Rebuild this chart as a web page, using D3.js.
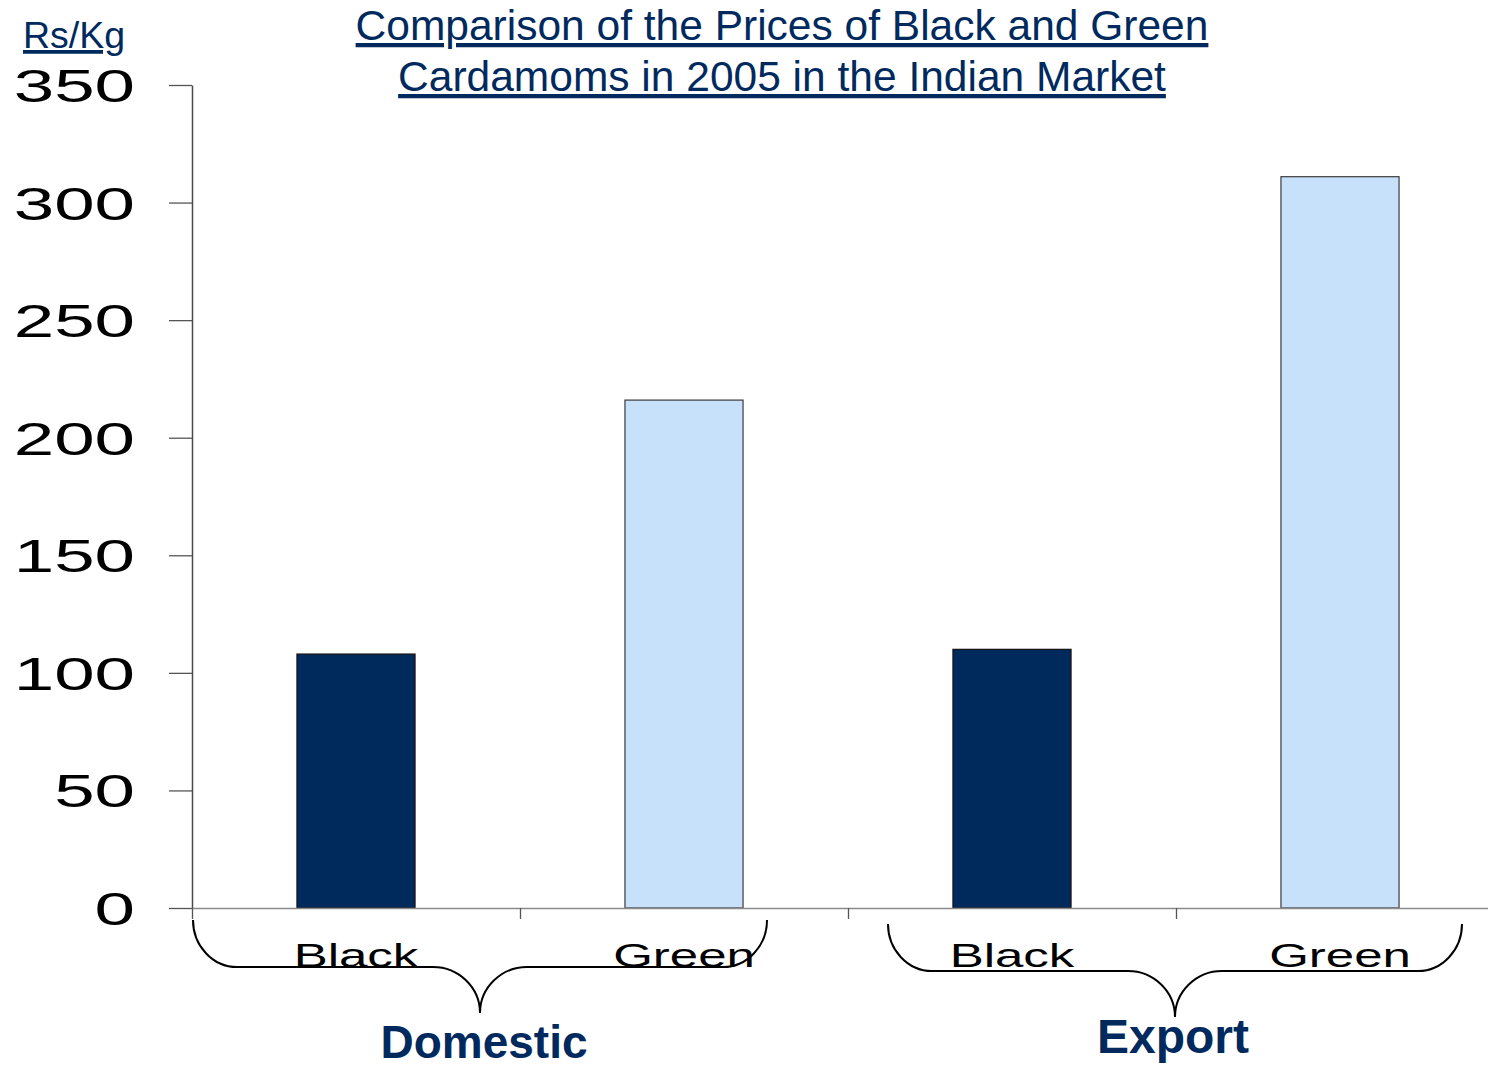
<!DOCTYPE html>
<html>
<head>
<meta charset="utf-8">
<script src="https://cdn.jsdelivr.net/npm/d3@7"></script>
<style>
  html, body { margin: 0; padding: 0; background: #ffffff; }
  svg { display: block; }
</style>
</head>
<body>
<svg id="chart" width="1488" height="1068"></svg>
<script>
// ---- data ----
const markets = ["Domestic", "Export"];
const types = ["Black", "Green"];
const categories = ["Domestic Black", "Domestic Green", "Export Black", "Export Green"];
const prices = [108, 216, 110, 311];           // Rs/Kg
const yTicks = [0, 50, 100, 150, 200, 250, 300, 350];
const titleLines = [
  "Comparison of the Prices of Black and Green",
  "Cardamoms in 2005 in the Indian Market"
];
const unitLabel = "Rs/Kg";

// ---- layout / style ----
const W = 1488, H = 1068;
const plot = { left: 192, right: 1504, top: 85, bottom: 908 };
const navy = "#002a5e";
const fills = { Black: "#00295c", Green: "#c7e1fa" };
const strokes = { Black: "#111111", Green: "#3a3a3a" };
const sansFont = "'Liberation Sans', Arial, Helvetica, sans-serif";
const tickStretch = 1.58;  // wide lettering for the axis numbers
const catStretch = 1.5;    // wide lettering for the category names

const svg = d3.select("#chart");

const x = d3.scaleBand()
  .domain(categories)
  .range([plot.left, plot.right])
  .paddingInner(0.64)
  .paddingOuter(0.32);

const slots = d3.scaleLinear()
  .domain([0, categories.length])
  .range([plot.left, plot.right]);

const y = d3.scaleLinear()
  .domain([0, 350])
  .range([plot.bottom, plot.top]);

// ---- bars ----
const rows = categories.map((c, i) => ({ cat: c, type: types[i % 2], value: prices[i] }));

svg.append("g")
  .selectAll("rect")
  .data(rows)
  .join("rect")
  .attr("x", d => x(d.cat))
  .attr("y", d => y(d.value))
  .attr("width", x.bandwidth())
  .attr("height", d => y(0) - y(d.value))
  .attr("fill", d => fills[d.type])
  .attr("stroke", d => strokes[d.type])
  .attr("stroke-width", 1.2);

// ---- y axis ----
const yAxis = svg.append("g")
  .attr("transform", `translate(${plot.left},0)`)
  .call(d3.axisLeft(y).tickValues(yTicks).tickSize(23).tickSizeOuter(0).tickFormat(d3.format("d")));

yAxis.select(".domain").attr("stroke", "#4a4a4a").attr("stroke-width", 1.5);
yAxis.selectAll(".tick line").attr("stroke", "#555555").attr("stroke-width", 1.3);
yAxis.selectAll(".tick text")
  .attr("x", 0)
  .attr("dy", "0.36em")
  .attr("text-anchor", "end")
  .attr("transform", `translate(-57,0) scale(${tickStretch},1)`)
  .style("font-family", sansFont)
  .style("font-size", "46px")
  .attr("fill", "#000");

// ---- x axis (baseline with slot dividers) ----
const xAxis = svg.append("g")
  .attr("transform", `translate(0,${plot.bottom})`)
  .call(d3.axisBottom(slots).ticks(categories.length).tickSize(11).tickSizeOuter(0).tickFormat(""));

xAxis.select(".domain").attr("stroke", "#8a8a8a").attr("stroke-width", 1.6);
xAxis.selectAll(".tick line").attr("stroke", "#555555").attr("stroke-width", 1.3);

// ---- category names ----
svg.append("g")
  .selectAll("text")
  .data(rows)
  .join("text")
  .attr("text-anchor", "middle")
  .attr("transform", d => `translate(${x(d.cat) + x.bandwidth() / 2},967) scale(${catStretch},1)`)
  .style("font-family", sansFont)
  .style("font-size", "34px")
  .attr("fill", "#000")
  .text(d => d.type);

// ---- braces grouping the markets ----
const braces = [
  { name: markets[0], x0: 193, x1: 767, top: 920, mid: 967, tip: 1013, labelX: 484, labelY: 1058, size: 46 },
  { name: markets[1], x0: 888, x1: 1462, top: 924, mid: 971, tip: 1017, labelX: 1173, labelY: 1053, size: 48 }
];

function bracePath(b) {
  const c = (b.x0 + b.x1) / 2;
  const r = 44;            // end curl width
  const m = 47;            // centre curl width
  const p = d3.path();
  p.moveTo(b.x0, b.top);
  p.bezierCurveTo(b.x0, b.top + 0.55 * (b.mid - b.top), b.x0 + 0.45 * r, b.mid, b.x0 + r, b.mid);
  p.lineTo(c - m, b.mid);
  p.bezierCurveTo(c - m + 0.55 * m, b.mid, c, b.tip - 0.55 * (b.tip - b.mid), c, b.tip);
  p.bezierCurveTo(c, b.tip - 0.55 * (b.tip - b.mid), c + m - 0.55 * m, b.mid, c + m, b.mid);
  p.lineTo(b.x1 - r, b.mid);
  p.bezierCurveTo(b.x1 - 0.45 * r, b.mid, b.x1, b.top + 0.55 * (b.mid - b.top), b.x1, b.top);
  return p.toString();
}

svg.append("g")
  .selectAll("path")
  .data(braces)
  .join("path")
  .attr("d", bracePath)
  .attr("fill", "none")
  .attr("stroke", "#000")
  .attr("stroke-width", 2);

svg.append("g")
  .selectAll("text")
  .data(braces)
  .join("text")
  .attr("x", b => b.labelX)
  .attr("y", b => b.labelY)
  .attr("text-anchor", "middle")
  .style("font-family", sansFont)
  .style("font-size", b => b.size + "px")
  .style("font-weight", "bold")
  .attr("fill", navy)
  .text(b => b.name);

// ---- title and unit ----
svg.append("g")
  .selectAll("text")
  .data(titleLines)
  .join("text")
  .attr("x", 782)
  .attr("y", (d, i) => 40 + i * 51)
  .attr("text-anchor", "middle")
  .style("font-family", sansFont)
  .style("font-size", "42.5px")
  .style("text-decoration", "underline")
  .attr("fill", navy)
  .text(d => d);

svg.append("text")
  .attr("x", 23)
  .attr("y", 48)
  .style("font-family", sansFont)
  .style("font-size", "37.5px")
  .style("text-decoration", "underline")
  .attr("fill", navy)
  .text(unitLabel);
</script>
</body>
</html>
